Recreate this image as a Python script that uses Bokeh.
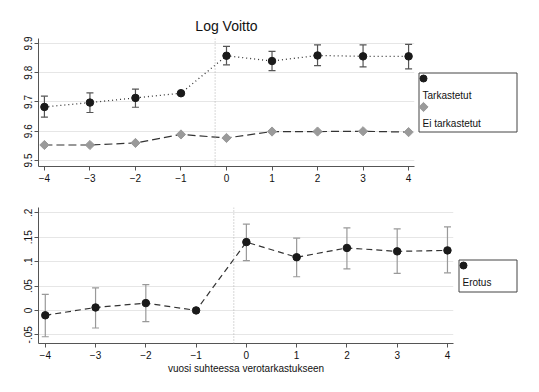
from bokeh.plotting import figure
from bokeh.models import ColumnDataSource, Whisker, TeeHead, Span, Range1d, FixedTicker
from bokeh.layouts import column, row
from bokeh.embed import file_html
from bokeh.resources import INLINE
from bokeh.core.properties import value

# ---- data ----
years = [-4, -3, -2, -1, 0, 1, 2, 3, 4]
tark = [9.683, 9.698, 9.714, 9.730, 9.858, 9.840, 9.859, 9.856, 9.856]
tark_lo = [9.648, 9.664, 9.682, 9.727, 9.827, 9.807, 9.824, 9.820, 9.813]
tark_hi = [9.720, 9.731, 9.744, 9.733, 9.890, 9.873, 9.895, 9.895, 9.897]
ei = [9.553, 9.553, 9.560, 9.589, 9.577, 9.599, 9.599, 9.600, 9.597]
erotus = [-0.010, 0.006, 0.015, 0.0, 0.140, 0.109, 0.128, 0.121, 0.123]
erotus_lo = [-0.054, -0.036, -0.023, 0.0, 0.102, 0.069, 0.085, 0.076, 0.077]
erotus_hi = [0.033, 0.046, 0.053, 0.0, 0.177, 0.148, 0.169, 0.167, 0.171]
top_ticks = [9.5, 9.6, 9.7, 9.8, 9.9]
bot_ticks = [-0.05, 0, 0.05, 0.1, 0.15, 0.2]
bot_tick_labels = ["-.05", "0", ".05", ".1", ".15", ".2"]
event_year = -0.25
title_text = "Log Voitto"
xlabel_text = "vuosi suhteessa verotarkastukseen"
legend_top_labels = ["Tarkastetut", "Ei tarkastetut"]
legend_bot_labels = ["Erotus"]

FONT = "Liberation Sans"


def style(p):
    p.xgrid.visible = False
    p.ygrid.grid_line_color = "#e6e6e6"
    p.ygrid.grid_line_width = 1
    p.outline_line_color = None
    for ax in p.axis:
        ax.axis_line_color = "#555555"
        ax.major_tick_line_color = "#555555"
        ax.minor_tick_line_color = None
        ax.major_tick_out = 4
        ax.major_tick_in = 0
        ax.major_label_text_font = FONT
        ax.major_label_text_font_size = "10px"
        ax.major_label_text_color = "#111111"
        ax.major_label_standoff = 3
    p.xaxis.ticker = FixedTicker(ticks=years)
    p.yaxis.major_label_orientation = "vertical"
    p.yaxis.major_label_standoff = 2


def legend_fig(x0, y0, width, height, top_b, bot_b):
    # frame in page-pixel coordinates (y grows downward)
    lf = figure(width=width, height=height,
                x_range=Range1d(x0, x0 + width),
                y_range=Range1d(y0 + height - bot_b, y0 + top_b),
                min_border_left=0, min_border_right=0,
                min_border_top=top_b, min_border_bottom=bot_b,
                x_axis_location=None, y_axis_location=None,
                output_backend="svg", toolbar_location=None)
    lf.grid.visible = False
    lf.outline_line_color = None
    return lf


# ---- top panel ----
top = figure(width=416, height=196, min_border_left=38, min_border_right=2,
             min_border_top=38, min_border_bottom=30,
             x_range=Range1d(-4.13, 4.13), y_range=Range1d(9.4795, 9.917),
             output_backend="svg", toolbar_location=None, title=title_text)
style(top)
top.title.align = "center"
top.title.text_font = FONT
top.title.text_font_size = "14px"
top.title.text_font_style = "normal"
top.title.text_color = "#111111"
top.yaxis.ticker = FixedTicker(ticks=top_ticks)

top.add_layout(Span(location=event_year, dimension="height", line_color="#b0b0b0",
                    line_dash="1 2", line_width=1))

src_t = ColumnDataSource(dict(x=years, y=tark, lo=tark_lo, hi=tark_hi))
top.add_layout(Whisker(source=src_t, base="x", lower="lo", upper="hi",
                       line_color="#555555", line_width=1.2, level="underlay",
                       upper_head=TeeHead(size=7, line_color="#555555", line_width=1.2),
                       lower_head=TeeHead(size=7, line_color="#555555", line_width=1.2)))
top.line(years, tark, line_color="#333333", line_dash="1 3", line_width=1.3)
top.line(years, ei, line_color="#333333", line_dash="8 4", line_width=1.2)
top.scatter(years, ei, marker="square", angle=0.785, size=6.5,
            fill_color="#9a9a9a", line_color="#9a9a9a")
top.scatter(years, tark, marker="circle", size=7.5,
            fill_color="#1a1a1a", line_color="#1a1a1a")

# ---- bottom panel ----
bot = figure(width=455, height=188, min_border_left=38, min_border_right=2,
             min_border_top=11, min_border_bottom=41,
             x_range=Range1d(-4.135, 4.12), y_range=Range1d(-0.0678, 0.2109),
             output_backend="svg", toolbar_location=None)
style(bot)
bot.yaxis.ticker = FixedTicker(ticks=bot_ticks)
bot.yaxis.major_label_overrides = {t: l for t, l in zip(bot_ticks, bot_tick_labels)}
bot.xaxis.axis_label = xlabel_text
bot.xaxis.axis_label_text_font = FONT
bot.xaxis.axis_label_text_font_size = "10px"
bot.xaxis.axis_label_text_font_style = "normal"
bot.xaxis.axis_label_text_color = "#111111"
bot.xaxis.axis_label_standoff = 1

bot.add_layout(Span(location=event_year, dimension="height", line_color="#b0b0b0",
                    line_dash="1 2", line_width=1))

keep = [i for i in range(len(years)) if erotus_hi[i] > erotus_lo[i]]
src_b = ColumnDataSource(dict(x=[years[i] for i in keep],
                              lo=[erotus_lo[i] for i in keep],
                              hi=[erotus_hi[i] for i in keep]))
bot.add_layout(Whisker(source=src_b, base="x", lower="lo", upper="hi",
                       line_color="#999999", line_width=1.2, level="underlay",
                       upper_head=TeeHead(size=7, line_color="#999999", line_width=1.2),
                       lower_head=TeeHead(size=7, line_color="#999999", line_width=1.2)))
bot.line(years, erotus, line_color="#333333", line_dash="6 4", line_width=1.2)
bot.scatter(years, erotus, marker="circle", size=7.5,
            fill_color="#1a1a1a", line_color="#1a1a1a")

# ---- legends (page-pixel coordinates) ----
lt = legend_fig(416, 0, 115, 196, 38, 30)
lt.quad(left=[418.5], right=[516.5], top=[72.5], bottom=[131.5],
        fill_color=None, line_color="#444444", line_width=1)
lt.scatter([423], [78], marker="circle", size=7, fill_color="#1a1a1a", line_color="#1a1a1a")
lt.scatter([423], [106.5], marker="square", angle=0.785, size=6.5,
           fill_color="#9a9a9a", line_color="#9a9a9a")
lt.text([422, 422], [95, 123], text=legend_top_labels, text_font=value(FONT),
        text_font_size="10px", text_baseline="middle", text_align="left",
        text_color="#111111")

lb = legend_fig(455, 196, 76, 188, 11, 41)
lb.quad(left=[458.5], right=[516.5], top=[259.5], bottom=[291.5],
        fill_color=None, line_color="#444444", line_width=1)
lb.scatter([463], [265], marker="circle", size=7, fill_color="#1a1a1a", line_color="#1a1a1a")
lb.text([462], [282], text=legend_bot_labels, text_font=value(FONT),
        text_font_size="10px", text_baseline="middle", text_align="left",
        text_color="#111111")

layout = column(row(top, lt), row(bot, lb))

open("out.html", "w").write(file_html(layout, INLINE))
